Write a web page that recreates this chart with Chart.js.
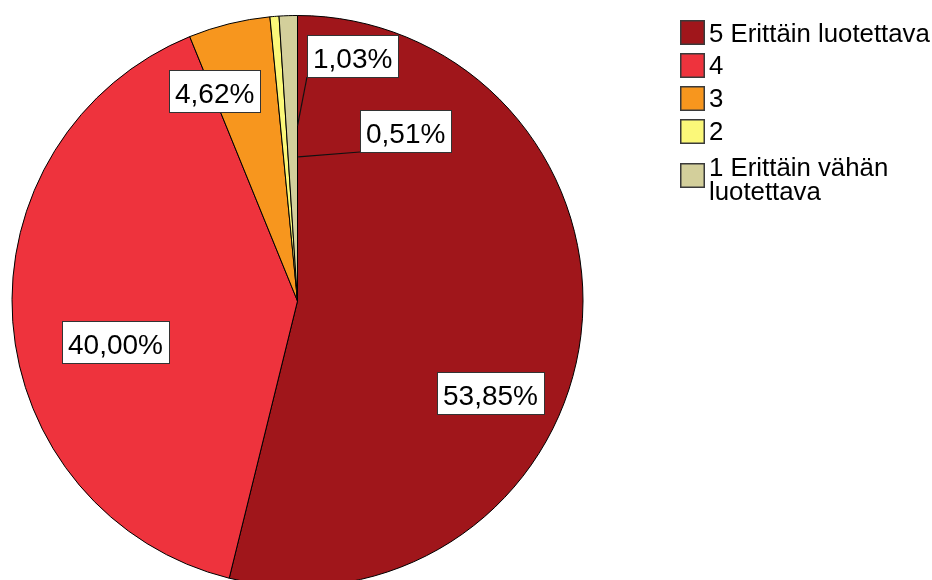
<!DOCTYPE html>
<html>
<head>
<meta charset="utf-8">
<script src="https://cdn.jsdelivr.net/npm/chart.js@4.4.1/dist/chart.umd.min.js"></script>
<style>
  html, body { margin: 0; padding: 0; background: #fff; overflow: hidden; width: 932px; height: 580px; }
  #wrap { position: absolute; left: 0; top: 0; width: 932px; height: 602px; }
</style>
</head>
<body>
<div id="wrap"><canvas id="c"></canvas></div>
<script>
// Response categories and their shares (%)
const categories = ['5 Erittäin luotettava', '4', '3', '2', '1 Erittäin vähän luotettava'];
const shares = [53.85, 40.00, 4.62, 0.51, 1.03];
const sliceColors = ['#A0161B', '#EE333D', '#F7961E', '#FBF879', '#D3CF9B'];

// Where each percentage box sits: angle clockwise from 12 o'clock (deg) and
// distance from the centre as a fraction of the radius. Optional leader target.
const labelPlacement = [
  { angle: 115.4, dist: 0.748 },
  { angle: 257.3, dist: 0.652 },
  { angle: 338.5, dist: 0.792 },
  { angle: 32.5,  dist: 0.706, leader: { angle: 0.3, dist: 0.505 } },
  { angle: 12.7,  dist: 0.878, leader: { angle: 0.0, dist: 0.613 } }
];

const FONT = '"Liberation Sans", Arial, Helvetica, sans-serif';

function pct(v) {
  return v.toFixed(2).replace('.', ',') + '%';
}

function wrapWords(ctx, text, maxW) {
  const words = text.split(' ');
  const lines = [];
  let cur = '';
  for (const w of words) {
    const t = cur ? cur + ' ' + w : w;
    if (cur && ctx.measureText(t).width > maxW) { lines.push(cur); cur = w; }
    else cur = t;
  }
  if (cur) lines.push(cur);
  return lines;
}

const annotate = {
  id: 'annotate',
  afterDatasetsDraw(chart) {
    const ctx = chart.ctx;
    const arcs = chart.getDatasetMeta(0).data;
    const cx = arcs[0].x, cy = arcs[0].y, R = arcs[0].outerRadius;
    const polar = (a, d) => [cx + d * R * Math.sin(a * Math.PI / 180),
                             cy - d * R * Math.cos(a * Math.PI / 180)];
    ctx.save();

    // percentage boxes
    ctx.font = '28px ' + FONT;
    ctx.textBaseline = 'alphabetic';
    ctx.textAlign = 'left';
    shares.forEach((v, i) => {
      const p = labelPlacement[i];
      const [x, y] = polar(p.angle, p.dist);
      const txt = pct(v);
      const w = Math.round(ctx.measureText(txt).width + 12);
      const h = 42;
      const left = Math.round(x - w / 2), top = Math.round(y - h / 2);
      if (p.leader) {
        const [tx, ty] = polar(p.leader.angle, p.leader.dist);
        ctx.strokeStyle = '#111';
        ctx.lineWidth = 1.2;
        ctx.beginPath();
        ctx.moveTo(left, top + h);
        ctx.lineTo(tx, ty);
        ctx.stroke();
      }
      ctx.fillStyle = '#fff';
      ctx.fillRect(left, top, w, h);
      ctx.strokeStyle = '#333';
      ctx.lineWidth = 1;
      ctx.strokeRect(left + 0.5, top + 0.5, w, h);
      ctx.fillStyle = '#000';
      ctx.fillText(txt, left + 6, top + 33);
    });

    // legend
    ctx.font = '25.8px ' + FONT;
    const sx = 680, tx = 709, box = 25, lineH = 23.4, pad = 9.3;
    let itemTop = 16.6;
    categories.forEach((name, i) => {
      const lines = wrapWords(ctx, name, 932 - tx);
      const itemH = pad + lines.length * lineH;
      const mid = itemTop + itemH / 2;
      const sTop = Math.round(mid - box / 2);
      ctx.fillStyle = sliceColors[i];
      ctx.fillRect(sx, sTop, box, box);
      ctx.strokeStyle = '#3a3a3a';
      ctx.lineWidth = 1.5;
      ctx.strokeRect(sx + 0.75, sTop + 0.75, box - 1.5, box - 1.5);
      ctx.fillStyle = '#000';
      const firstBase = mid + 8.7 - (lines.length - 1) * lineH / 2 + (lines.length - 1) * 4;
      lines.forEach((ln, k) => ctx.fillText(ln, tx, firstBase + k * lineH));
      itemTop += itemH;
    });
    ctx.restore();
  }
};

new Chart(document.getElementById('c'), {
  type: 'pie',
  data: {
    labels: categories,
    datasets: [{
      data: shares,
      backgroundColor: sliceColors,
      borderColor: '#000',
      borderWidth: 1
    }]
  },
  options: {
    responsive: true,
    maintainAspectRatio: false,
    animation: false,
    radius: 285.5,
    layout: { padding: { left: 0, top: 0, right: 337, bottom: 0 } },
    plugins: {
      legend: { display: false },
      tooltip: { enabled: false }
    }
  },
  plugins: [annotate]
});
</script>
</body>
</html>
